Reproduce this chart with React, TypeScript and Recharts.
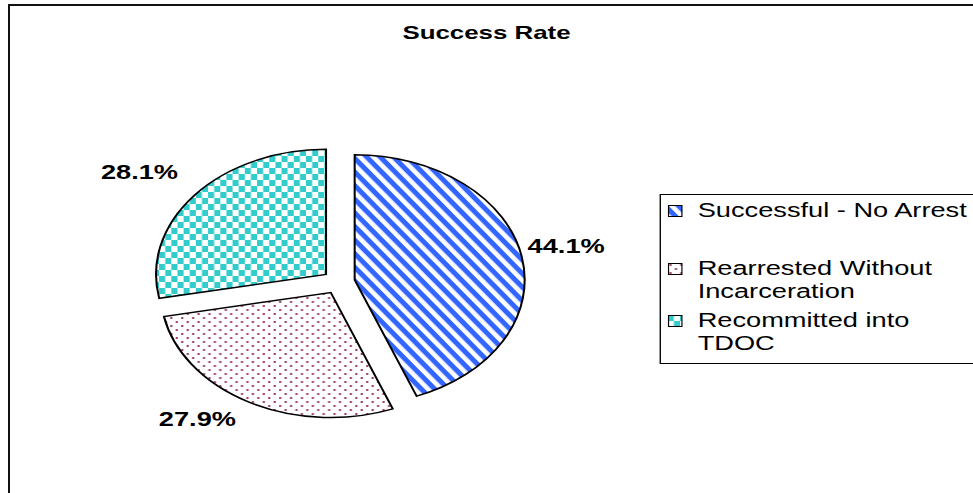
import { PieChart, Pie, Cell, Legend } from "recharts";

// Success Rate (share of releases, %)
const categories = ["Successful - No Arrest", "Rearrested Without Incarceration", "Recommitted into TDOC"];
const shares = [44.1, 27.9, 28.1];
const legendLines = [["Successful - No Arrest"], ["Rearrested Without", "Incarceration"], ["Recommitted into", "TDOC"]];
const fills = ["url(#stripes)", "url(#dots)", "url(#checks)"];

const data = categories.map((name, i) => ({ name, value: shares[i] }));

// the original picture is stretched sideways, so the chart is drawn narrow and scaled in x
const SX = 1.36;
const W = 973 / SX;
const H = 493;
const CX = 244;
const CY = 277;
const R = 125;
const EXPLODE = 12;
const LABEL_RX = 146.5;
const LABEL_RY = 152;
const FONT = '"Liberation Sans", Arial, sans-serif';
const RAD = Math.PI / 180;

const total = shares.reduce((a, b) => a + b, 0);
// recharts angles: start at 90 and go clockwise
const midAngles = shares.map((v, i) => {
  const before = shares.slice(0, i).reduce((a, b) => a + b, 0);
  return 90 - ((before + v / 2) / total) * 360;
});

const legendTops = [4, 62, 114];

function makeLabel(k: number) {
  return (props: any) => {
    if (props.index !== k) return null;
    const c = Math.cos(-midAngles[k] * RAD);
    const s = Math.sin(-midAngles[k] * RAD);
    const x = CX + LABEL_RX * c;
    const y = CY + LABEL_RY * s + 8.5 * Math.max(-1, Math.min(1, s * 2));
    return (
      <text
        x={x}
        y={y}
        textAnchor={c >= 0 ? "start" : "end"}
        dominantBaseline="central"
        fontFamily={FONT}
        fontWeight="bold"
        fontSize={20}
        fill="#000"
      >
        {`${shares[k].toFixed(1)}%`}
      </text>
    );
  };
}

function LegendBox() {
  return (
    <div
      style={{
        position: "absolute",
        left: 485,
        top: 194,
        width: 260,
        height: 168,
        border: "1px solid #000",
        background: "#fff",
        fontFamily: FONT,
        fontSize: 20,
        lineHeight: "23px",
        color: "#000",
      }}
    >
      {legendLines.map((lines, i) => (
        <div key={i} style={{ position: "absolute", left: 0, top: legendTops[i], width: 260 }}>
          <svg width={11} height={12} style={{ position: "absolute", left: 5, top: 6 }}>
            <rect x={0.5} y={0.5} width={10} height={11} fill={fills[i]} stroke="#000" strokeWidth={1} />
          </svg>
          <div style={{ position: "absolute", left: 27, top: 0, whiteSpace: "nowrap" }}>
            {lines.map((t, j) => (
              <div key={j}>{t}</div>
            ))}
          </div>
        </div>
      ))}
    </div>
  );
}

export default function App() {
  return (
    <div style={{ position: "fixed", left: 0, top: 0, width: 973, height: H, overflow: "hidden", background: "#fff" }}>
      <div style={{ position: "absolute", left: 8, top: 4, width: 1100, height: 700, border: "2px solid #111" }} />
      <div style={{ position: "absolute", left: 0, top: 0, width: W, height: H, transform: `scaleX(${SX})`, transformOrigin: "0 0" }}>
        <div
          style={{
            position: "absolute",
            left: 0,
            top: 22,
            width: W,
            textAlign: "center",
            fontFamily: FONT,
            fontWeight: "bold",
            fontSize: 19,
            color: "#000",
          }}
        >
          Success Rate
        </div>
        <PieChart width={W} height={H} style={{ position: "absolute", left: 0, top: 0 }}>
          <defs>
            <pattern id="stripes" width={8} height={8} patternUnits="userSpaceOnUse" patternTransform="rotate(54)">
              <rect width={8} height={8} fill="#fff" />
              <rect width={8} height={4.2} fill="#3366ff" />
            </pattern>
            <pattern id="dots" width={8} height={8} patternUnits="userSpaceOnUse">
              <rect width={8} height={8} fill="#fff" />
              <circle cx={2} cy={2} r={1} fill="#993366" />
              <circle cx={6} cy={6} r={1} fill="#993366" />
            </pattern>
            <pattern id="checks" width={9} height={12} patternUnits="userSpaceOnUse">
              <rect width={9} height={12} fill="#fff" />
              <rect x={0} y={0} width={4.5} height={6} fill="#33cccc" />
              <rect x={4.5} y={6} width={4.5} height={6} fill="#33cccc" />
            </pattern>
          </defs>
          {data.map((_, k) => (
            <Pie
              key={k}
              data={data}
              dataKey="value"
              nameKey="name"
              cx={CX + EXPLODE * Math.cos(-midAngles[k] * RAD)}
              cy={CY + EXPLODE * Math.sin(-midAngles[k] * RAD)}
              outerRadius={R}
              startAngle={90}
              endAngle={-270}
              label={makeLabel(k)}
              labelLine={false}
              legendType="none"
              isAnimationActive={false}
            >
              {data.map((__, i) => (
                <Cell
                  key={i}
                  fill={i === k ? fills[i] : "none"}
                  stroke={i === k ? "#000" : "none"}
                  strokeWidth={1.5}
                />
              ))}
            </Pie>
          ))}
          <Legend content={() => <LegendBox />} wrapperStyle={{ position: "absolute", left: 0, top: 0, width: W, height: H }} />
        </PieChart>
      </div>
    </div>
  );
}
